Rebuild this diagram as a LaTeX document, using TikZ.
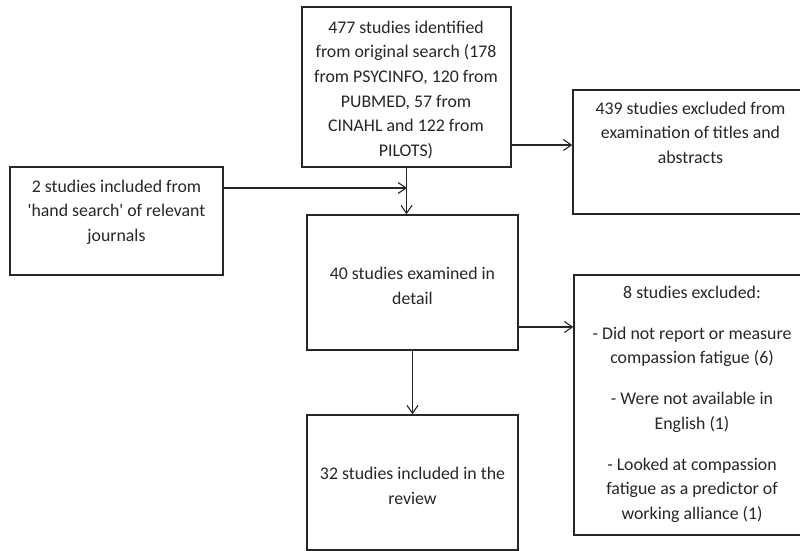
\documentclass[tikz,border=0pt]{standalone}
\usepackage{fontspec}
\setmainfont{Carlito}
\usetikzlibrary{arrows.meta}
\definecolor{ink}{HTML}{262626}
\begin{document}
\begin{tikzpicture}[x=1pt,y=-1pt,
  box/.style={draw=ink, line width=1.4pt, rectangle, inner sep=0pt},
  txt/.style={anchor=north, inner sep=0pt, align=center, text=ink,
    font=\fontsize{17.8}{24.7}\selectfont},
  arr/.style={draw=ink, line width=1.1pt, -{Straight Barb[length=8pt,width=11pt]}}]
\useasboundingbox (0,0) rectangle (800,551);
\clip (0,0) rectangle (800,551);
% boxes
\node[box, minimum width=209pt, minimum height=160pt] (b1) at (406.5,87) {};
\node[box, minimum width=236pt, minimum height=124pt] (r1) at (691,152) {};
\node[box, minimum width=213pt, minimum height=108pt] (l) at (116.5,221) {};
\node[box, minimum width=211pt, minimum height=135pt] (m) at (412.5,282.5) {};
\node[box, minimum width=211pt, minimum height=135pt] (b) at (412.5,482.5) {};
\node[box, minimum width=236pt, minimum height=260pt] (r2) at (692,405) {};
% texts
\node[txt] (tb1) at (406,20.5) {477 studies identified\\from original search (178\\from PSYCINFO, 120 from\\PUBMED, 57 from\\CINAHL and 122 from\\PILOTS)};
\node[txt] (tr1) at (690.5,101.5) {439 studies excluded from\\examination of titles and\\abstracts};
\node[txt] (tl) at (116.5,179.5) {2 studies included from\\\textquotesingle hand search\textquotesingle{} of relevant\\journals};
\node[txt] (tm) at (412.5,267) {40 studies examined in\\detail};
\node[txt] (tb) at (412.5,467) {32 studies included in the\\review};
\node[txt] (tr2) at (692,286) {8 studies excluded:\\[16pt]- Did not report or measure\\compassion fatigue (6)\\[16pt]- Were not available in\\English (1)\\[16pt]- Looked at compassion\\fatigue as a predictor of\\working alliance (1)};
% connector helpers
\coordinate (j1) at (407,188);
\coordinate (y1) at (0,145);
\coordinate (y2) at (0,327);
% connectors
\draw[arr] (b1.south) -- (b1.south |- m.north);
\draw[arr] (l.east |- j1) -- (j1);
\draw[arr] (b1.east |- y1) -- (r1.west |- y1);
\draw[arr] (m.east |- y2) -- (r2.west |- y2);
\draw[arr] (m.south) -- (b.north);
\end{tikzpicture}
\end{document}
